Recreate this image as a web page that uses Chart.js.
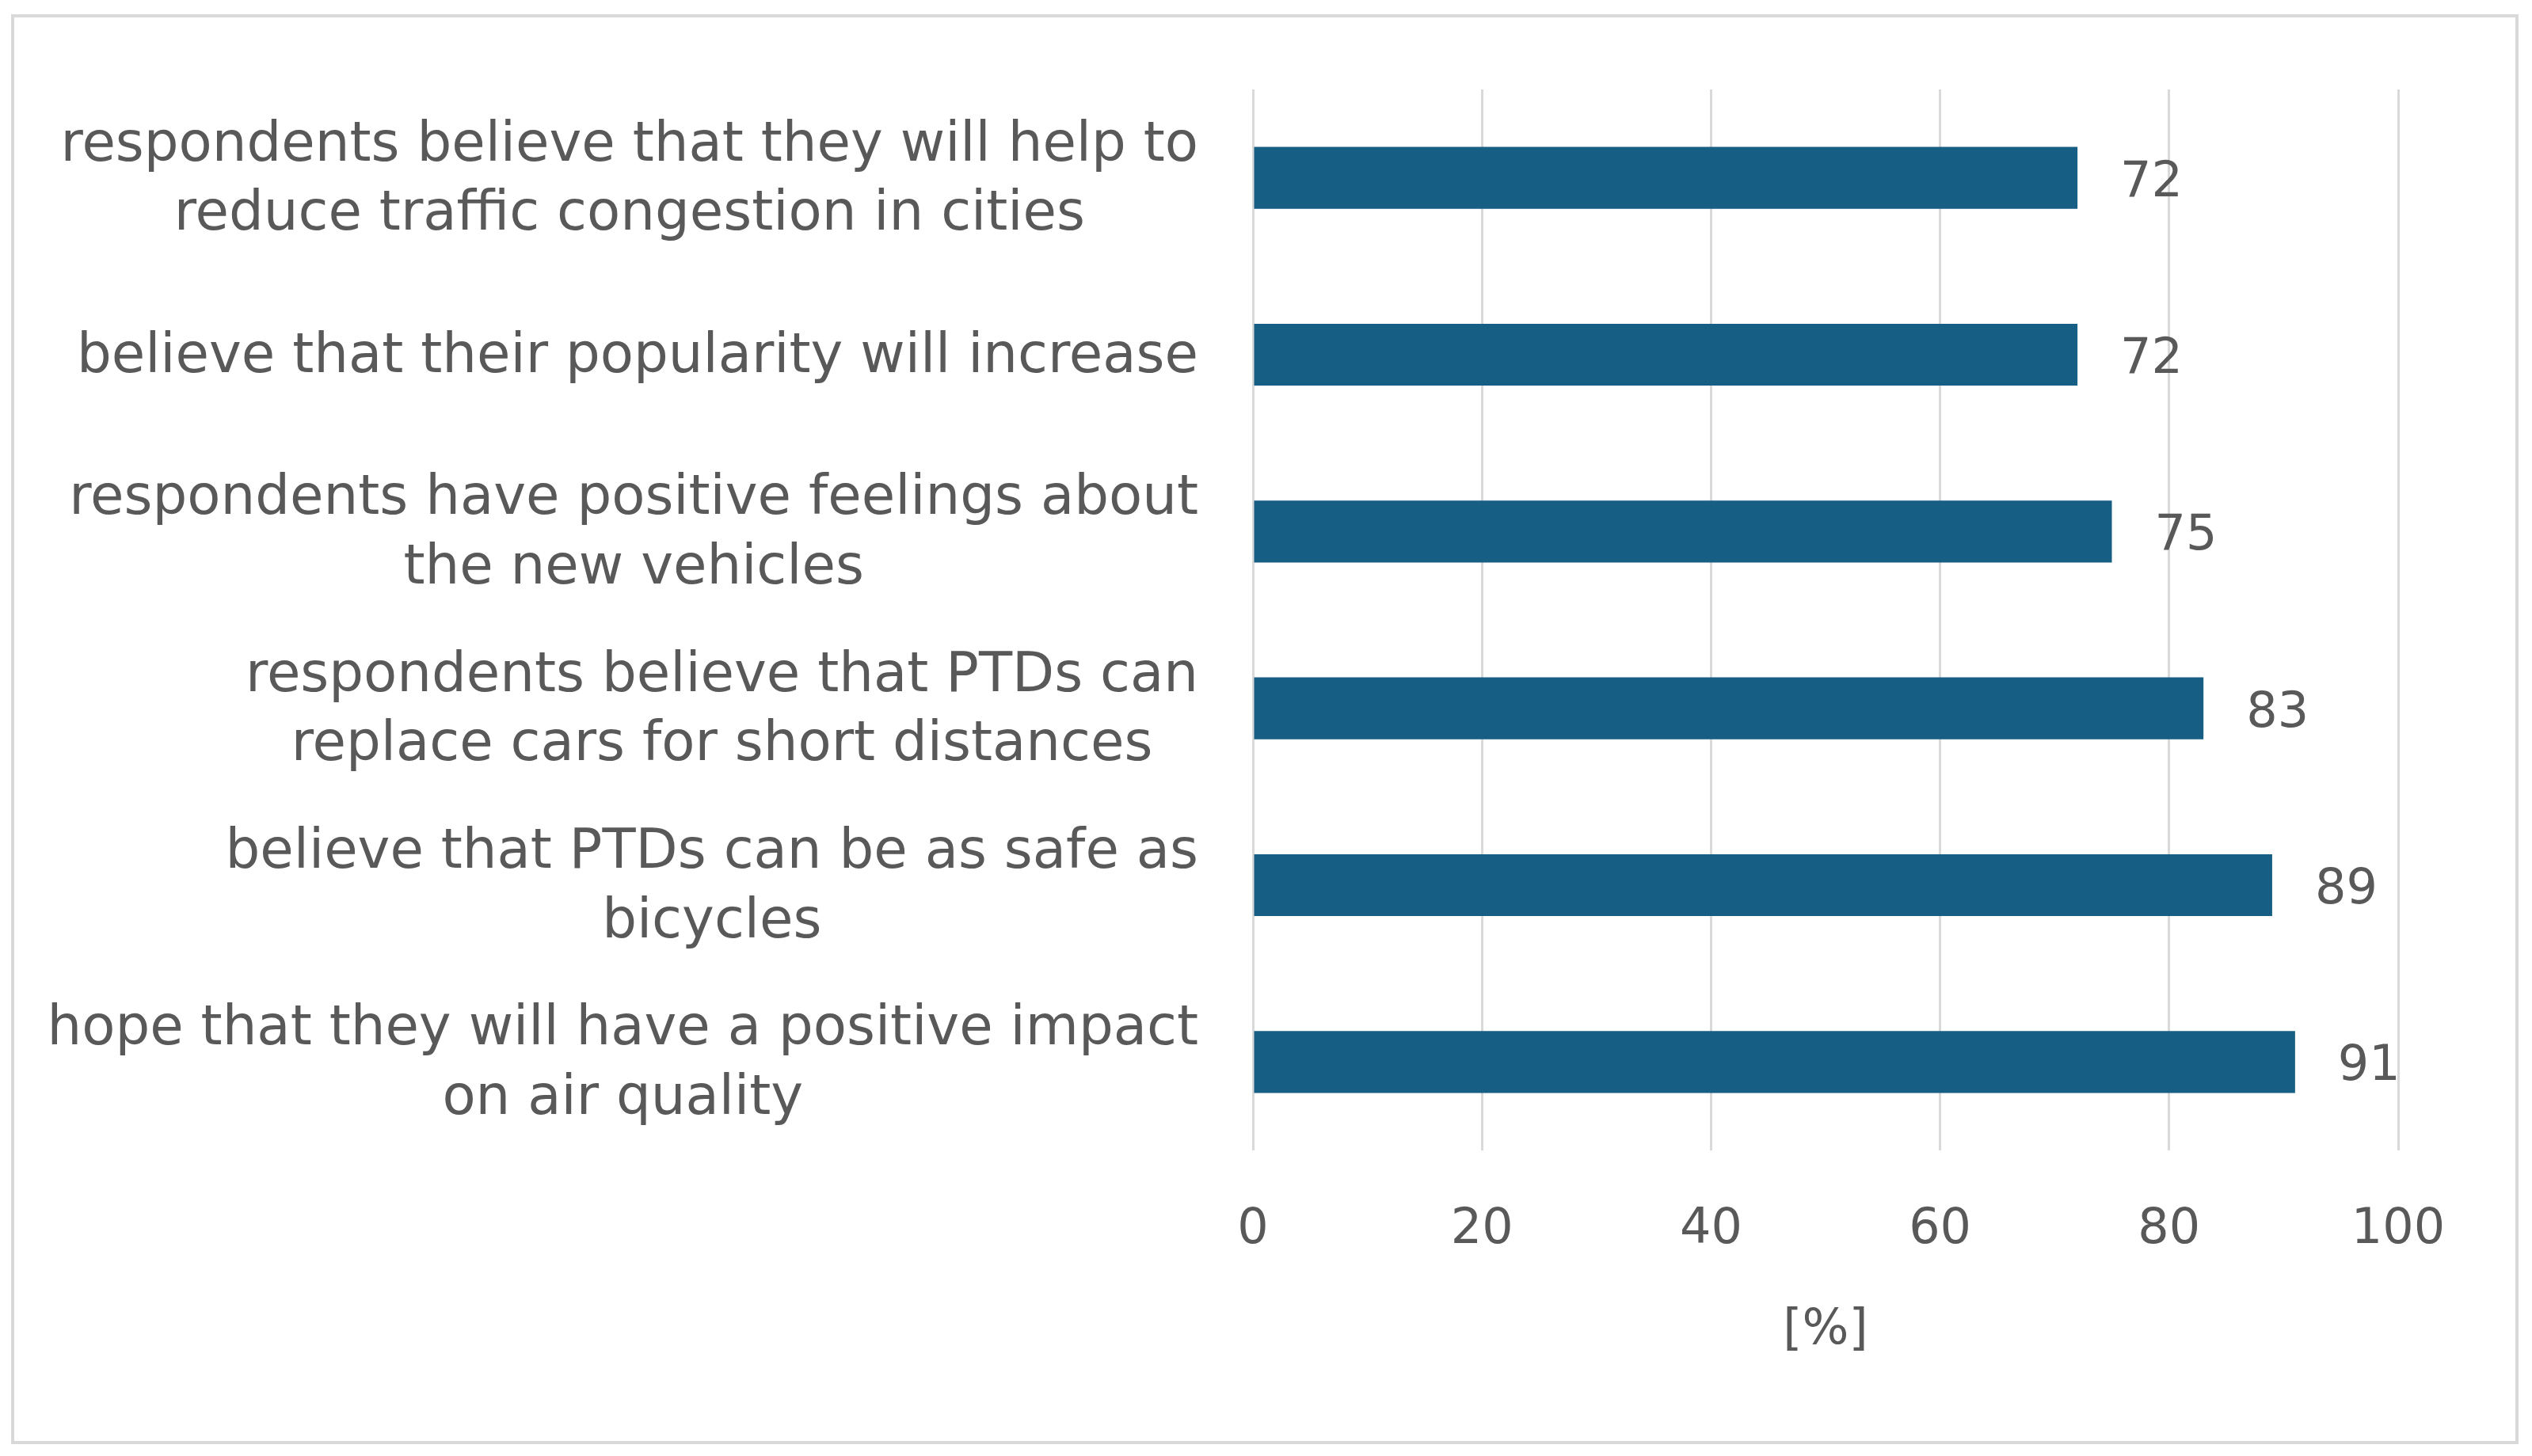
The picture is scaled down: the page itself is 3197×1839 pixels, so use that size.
<!DOCTYPE html>
<html>
<head>
<meta charset="utf-8">
<title>PTD opinions</title>
<script src="https://cdn.jsdelivr.net/npm/chart.js@4.4.1/dist/chart.umd.min.js"></script>
<style>
  html, body { margin: 0; padding: 0; background: #fff; }
  .frame {
    position: absolute;
    left: 14px; top: 18px;
    width: 3166px; height: 1806px;
    border: 4px solid #d9d9d9;
    box-sizing: border-box;
  }
  .chart-box {
    position: absolute;
    left: 0; top: 0;
    width: 3197px; height: 1839px;
  }
</style>
</head>
<body>
<div class="frame"></div>
<div class="chart-box"><canvas id="surveyChart"></canvas></div>
<script>
// categories, top to bottom (each entry = lines of the label)
const categories = [
  ['respondents believe that they will help to', 'reduce traffic congestion in cities'],
  ['believe that their popularity will increase'],
  ['respondents have positive feelings about', 'the new vehicles'],
  ['respondents believe that PTDs can', 'replace cars for short distances'],
  ['believe that PTDs can be as safe as', 'bicycles'],
  ['hope that they will have a positive impact', 'on air quality']
];
const shares = [72, 72, 75, 83, 89, 91];
const xTicks = [0, 20, 40, 60, 80, 100];
const axisTitle = '[%]';

const textColor = '#595959';
const fontFamily = '"DejaVu Sans", sans-serif';

// category labels: lines centred inside a block that is right-aligned to the axis
const categoryLabels = {
  id: 'categoryLabels',
  afterDraw(chart) {
    const { ctx } = chart;
    const yScale = chart.scales.y;
    const right = chart.chartArea.left - 69;
    const lineGap = 87.6;
    ctx.save();
    ctx.font = '69px ' + fontFamily;
    ctx.fillStyle = textColor;
    ctx.textAlign = 'center';
    ctx.textBaseline = 'middle';
    categories.forEach((lines, i) => {
      const y = yScale.getPixelForTick(i) + 4;
      const blockW = Math.max(...lines.map(l => ctx.measureText(l).width));
      const cx = right - blockW / 2;
      const top = y - (lines.length - 1) * lineGap / 2;
      lines.forEach((line, j) => ctx.fillText(line, cx, top + j * lineGap));
    });
    ctx.restore();
  }
};

// value labels after each bar
const valueLabels = {
  id: 'valueLabels',
  afterDatasetsDraw(chart) {
    const { ctx } = chart;
    const meta = chart.getDatasetMeta(0);
    ctx.save();
    ctx.font = '62px ' + fontFamily;
    ctx.fillStyle = textColor;
    ctx.textAlign = 'left';
    ctx.textBaseline = 'middle';
    meta.data.forEach((bar, i) => {
      ctx.fillText(String(shares[i]), bar.x + 54, bar.y + 7);
    });
    ctx.restore();
  }
};

new Chart(document.getElementById('surveyChart'), {
  type: 'bar',
  data: {
    labels: categories,
    datasets: [{
      data: shares,
      backgroundColor: '#165e83',
      borderWidth: 0,
      barPercentage: 0.35,
      categoryPercentage: 1
    }]
  },
  options: {
    indexAxis: 'y',
    responsive: true,
    maintainAspectRatio: false,
    devicePixelRatio: 1,
    animation: false,
    layout: { padding: { top: 113, right: 169, left: 0, bottom: 0 } },
    plugins: {
      legend: { display: false },
      tooltip: { enabled: false }
    },
    scales: {
      x: {
        min: xTicks[0],
        max: xTicks[xTicks.length - 1],
        afterBuildTicks: scale => { scale.ticks = xTicks.map(v => ({ value: v })); },
        afterFit: scale => { scale.height = 386; },
        grid: { color: '#d9d9d9', lineWidth: 3, drawTicks: false },
        border: { display: false },
        ticks: {
          color: textColor,
          padding: 64,
          font: { family: fontFamily, size: 62 }
        },
        title: {
          display: true,
          text: axisTitle,
          color: textColor,
          font: { family: fontFamily, size: 62 },
          padding: { top: 0, bottom: 121 }
        }
      },
      y: {
        afterFit: scale => { scale.width = 1582; },
        grid: { display: false },
        border: { display: false },
        ticks: { display: false }
      }
    }
  },
  plugins: [categoryLabels, valueLabels]
});
</script>
</body>
</html>
